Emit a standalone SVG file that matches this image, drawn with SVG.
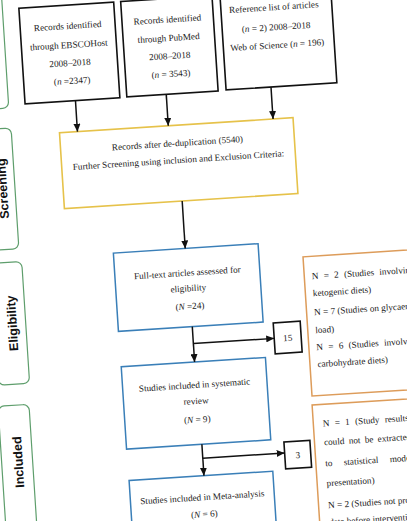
<svg xmlns="http://www.w3.org/2000/svg" width="407" height="521" viewBox="0 0 407 521">
<style>
.t{font-family:"Liberation Serif","Times New Roman",serif;font-size:9.2px;fill:#1a1a1a}
.c{text-anchor:middle}
.st{font-family:"Liberation Sans",Arial,sans-serif;font-size:12.5px;font-weight:bold;fill:#111;text-anchor:middle}
.bk{fill:#fff;stroke:#111;stroke-width:1.6}
.yl{fill:#fff;stroke:#E6C24A;stroke-width:1.6}
.bl{fill:#fff;stroke:#3A7FB8;stroke-width:1.5}
.or{fill:#fff;stroke:#DD9C5A;stroke-width:1.5}
.gr{fill:#fff;stroke:#5E9E6C;stroke-width:1.2}
.ln{fill:none;stroke:#111;stroke-width:1.5}
</style>
<defs>
<marker id="ah" markerUnits="userSpaceOnUse" markerWidth="8" markerHeight="7" refX="8" refY="3.5" orient="auto">
<path d="M0,0 L8,3.5 L0,7 z" fill="#111"/>
</marker>
</defs>
<rect width="407" height="521" fill="#fff"/>
<g transform="rotate(-3.7 200 260)">
<g id="stage-identification"><rect class="gr" x="-12" y="-40" width="31" height="136" rx="6"/></g>
<g id="stage-screening"><rect class="gr" x="-11" y="116" width="31" height="121" rx="6"/><text class="st" transform="translate(7.5,176) rotate(-90)" dy="0.36em">Screening</text></g>
<g id="stage-eligibility"><rect class="gr" x="-9" y="250" width="31" height="122" rx="6"/><text class="st" transform="translate(8.4,311) rotate(-90)" dy="0.36em">Eligibility</text></g>
<g id="stage-included"><rect class="gr" x="-11" y="393" width="31" height="170" rx="6"/><text class="st" transform="translate(5.5,450) rotate(-90)" dy="0.36em">Included</text></g>

<g id="ebscohost"><rect class="bk" x="35.5" y="-3" width="95" height="96"/>
<text class="t c" x="83" y="21">Records identified</text>
<text class="t c" x="83" y="40">through EBSCOHost</text>
<text class="t c" x="83" y="58">2008–2018</text>
<text class="t c" x="84" y="76">(<tspan font-style="italic">n</tspan> =2347)</text></g>

<g id="pubmed"><rect class="bk" x="137.5" y="-3" width="91.5" height="95.5"/>
<text class="t c" x="183" y="21">Records identified</text>
<text class="t c" x="183" y="39.5">through PubMed</text>
<text class="t c" x="183" y="57.5">2008–2018</text>
<text class="t c" x="183" y="75.5">(<tspan font-style="italic">n</tspan> = 3543)</text></g>

<g id="reflist"><rect class="bk" x="237" y="-12" width="111" height="104"/>
<text class="t c" x="290" y="15.5">Reference list of articles</text>
<text class="t c" x="291" y="35.5">(<tspan font-style="italic">n</tspan> = 2) 2008–2018</text>
<text class="t c" x="291" y="53.5">Web of Science (<tspan font-style="italic">n</tspan> = 196)</text></g>

<g id="dedup"><rect class="yl" x="68" y="124" width="234" height="76"/>
<text class="t c" x="185" y="145">Records after de-duplication (5540)</text>
<text class="t c" x="185" y="162">Further Screening using inclusion and Exclusion Criteria:</text></g>

<g id="fulltext"><rect class="bl" x="114" y="247.5" width="145" height="78.5"/>
<text class="t c" x="186.5" y="275">Full-text articles assessed for</text>
<text class="t c" x="186.5" y="290.5">eligibility</text>
<text class="t c" x="187" y="308.5">(<tspan font-style="italic">N</tspan> =24)</text></g>

<g id="excluded15"><rect class="bk" x="269" y="327.5" width="27" height="31"/>
<text class="t c" x="282.5" y="346.5">15</text></g>

<g id="systematic"><rect class="bl" x="114.5" y="361.5" width="144.5" height="82.5"/>
<text class="t c" x="186.5" y="387.5">Studies included in systematic</text>
<text class="t c" x="187" y="403.5">review</text>
<text class="t c" x="187" y="422">(<tspan font-style="italic">N</tspan> = 9)</text></g>

<g id="excluded3"><rect class="bk" x="272" y="447" width="26" height="27"/>
<text class="t c" x="285" y="464">3</text></g>

<g id="meta"><rect class="bl" x="115" y="475.5" width="144" height="90"/>
<text class="t c" x="187" y="500">Studies included in Meta-analysis</text>
<text class="t c" x="188" y="517">(<tspan font-style="italic">N</tspan> = 6)</text></g>

<g id="reasons15"><rect class="or" x="303" y="263.5" width="140" height="139.5"/>
<text class="t" x="310.5" y="286.5" word-spacing="3">N = 2 (Studies involving</text>
<text class="t" x="310.5" y="303.5">ketogenic diets)</text>
<text class="t" x="310.5" y="322.5">N = 7 (Studies on glycaemic</text>
<text class="t" x="310.5" y="340.5">load)</text>
<text class="t" x="310.5" y="357.5" word-spacing="3">N = 6 (Studies involving low-</text>
<text class="t" x="310.5" y="374.5">carbohydrate diets)</text></g>

<g id="reasons3"><rect class="or" x="302.5" y="412" width="140" height="150"/>
<text class="t" x="312" y="434" word-spacing="3">N = 1 (Study results</text>
<text class="t" x="312" y="453" word-spacing="2">could not be extracted due</text>
<text class="t" x="312" y="474" word-spacing="9">to statistical model</text>
<text class="t" x="312" y="494">presentation)</text>
<text class="t" x="312" y="516">N = 2 (Studies not providing</text>
<text class="t" x="312" y="533">data before intervention)</text></g>

<g id="connectors">
<path class="ln" d="M86,93 V124" marker-end="url(#ah)"/>
<path class="ln" d="M177,92.5 V124" marker-end="url(#ah)"/>
<path class="ln" d="M282,92 V124" marker-end="url(#ah)"/>
<path class="ln" d="M186,200 V247.5" marker-end="url(#ah)"/>
<path class="ln" d="M188,326 V361.5" marker-end="url(#ah)"/>
<path class="ln" d="M188,343 H269" marker-end="url(#ah)"/>
<path class="ln" d="M190,444 V475.5" marker-end="url(#ah)"/>
<path class="ln" d="M190,458 H272" marker-end="url(#ah)"/>
</g>
</g>
</svg>
